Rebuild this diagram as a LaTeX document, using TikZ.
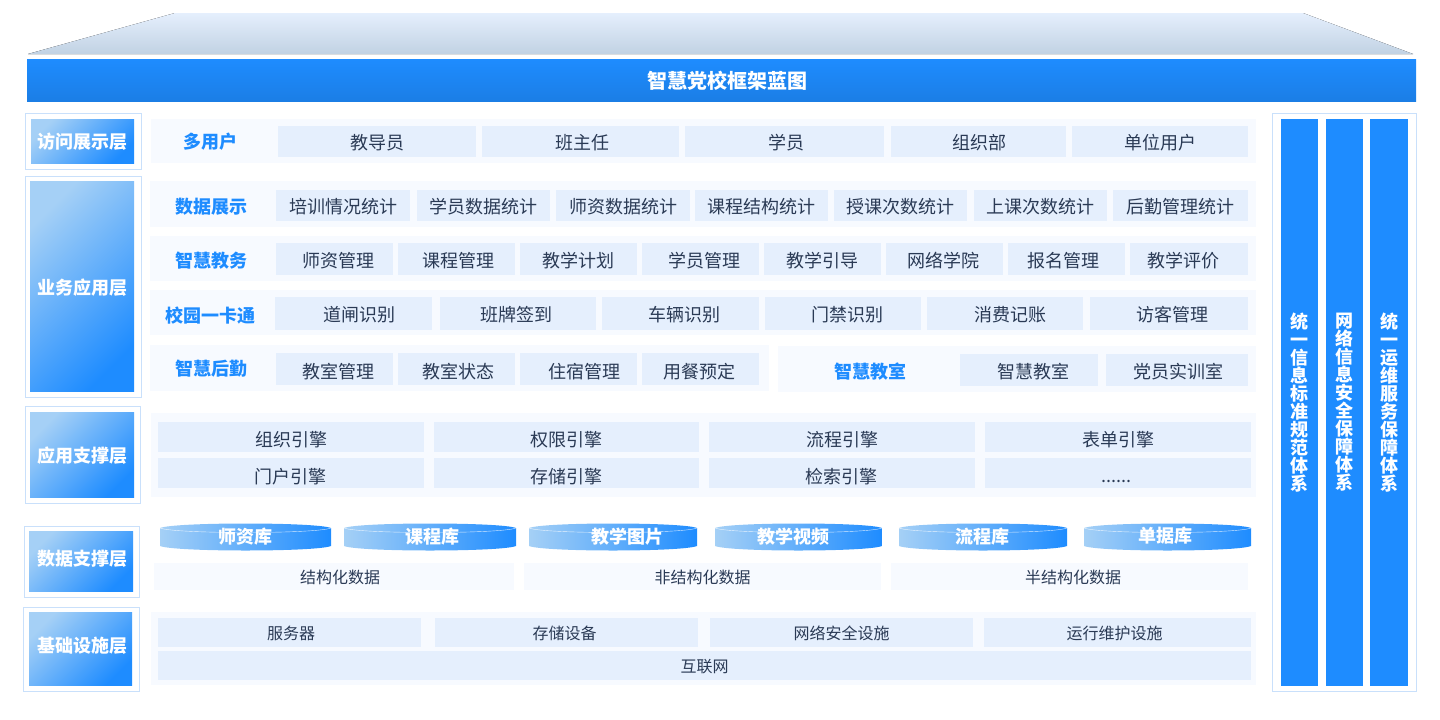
\documentclass[tikz,border=0pt]{standalone}
\usepackage{fontspec}
\setmainfont{Noto Sans CJK SC}
\usepackage{tikz}
\definecolor{framecol}{HTML}{C9E0FB}
\definecolor{panelcol}{HTML}{F7FAFF}
\definecolor{cellcol}{HTML}{E5EFFD}
\definecolor{inkcol}{HTML}{2A3A55}
\definecolor{bluecol}{HTML}{1E8CFF}
\definecolor{palecol}{HTML}{A5D0F6}
\definecolor{roofcol}{HTML}{C1D2E3}

\begin{document}
\begin{tikzpicture}[x=1pt,y=-1pt,
    box/.style ={rectangle, inner sep=0pt, outer sep=0pt},
    frame/.style ={box, draw=framecol, line width=1pt, fill=white},
    layer/.style ={box, top color=palecol, bottom color=bluecol, shading angle=45, text=white, text height=16pt, text depth=2pt, font=\fontsize{18}{18}\selectfont\bfseries},
    panel/.style ={box, fill=panelcol},
    cell/.style ={box, fill=cellcol, text=inkcol, text height=18pt, text depth=2pt, font=\fontsize{18}{18}\selectfont},
    smallcell/.style ={cell, text height=16.4pt, font=\fontsize{16}{16}\selectfont},
    datacell/.style ={panel, text=inkcol, text height=16.4pt, text depth=2pt, font=\fontsize{16}{16}\selectfont},
    section/.style ={text=bluecol, inner sep=0pt, text height=16pt, text depth=2pt, font=\fontsize{18}{18}\selectfont\bfseries},
    database/.style ={box, minimum height=28pt},
    dbtitle/.style ={text=white, inner sep=0pt, text height=16pt, text depth=2pt, font=\fontsize{18}{18}\selectfont\bfseries},
    pillar/.style ={box, fill=bluecol, text=white, align=center, font=\fontsize{18}{18}\selectfont\bfseries}]
   \useasboundingbox (0,0) rectangle (1440,720);
   % roof and title
   \fill[top color=cellcol, bottom color=roofcol] (28,54) -- (175,13) -- (1303,13) -- (1413,54) -- cycle;
   \node[box, minimum width=1389pt, minimum height=42pt, top color=bluecol, bottom color=bluecol!90!black, text=white, text height=18pt, text depth=2pt, font=\fontsize{20}{20}\selectfont\bfseries] (title) at (721.5,80) {\hspace*{12pt}智慧党校框架蓝图};
   % layers on the left
   \node[frame, minimum width=116pt, minimum height=56pt] (F1) at (83,141) {};
   \node[frame, minimum width=116pt, minimum height=221pt] (F2) at (83,286.5) {};
   \node[frame, minimum width=115pt, minimum height=97pt] (F3) at (82.5,454.5) {};
   \node[frame, minimum width=115pt, minimum height=71pt] (F4) at (81.5,561.5) {};
   \node[frame, minimum width=116pt, minimum height=84pt] (F5) at (81,649) {};
   \node[layer, minimum width=103pt, minimum height=44pt] (L1) at (82.5,141) {访问展示层};
   \node[layer, minimum width=104pt, minimum height=210pt, text height=18pt] (L2) at (82,286) {业务应用层};
   \node[layer, minimum width=104pt, minimum height=85pt, text height=18pt] (L3) at (82,454.5) {应用支撑层};
   \node[layer, minimum width=104pt, minimum height=60pt, text depth=7pt] (L4) at (81,561) {\hspace*{2pt}数据支撑层};
   \node[layer, minimum width=103pt, minimum height=73pt, text depth=8pt] (L5) at (80.5,648.5) {\hspace*{3pt}基础设施层};
   % pale panels behind the rows
   \node[panel, minimum width=1105pt, minimum height=44pt] (P1) at (703.5,141) {};
   \node[panel, minimum width=1106pt, minimum height=46pt] (P2) at (703,204) {};
   \node[panel, minimum width=1106pt, minimum height=45pt] (P3) at (703,258.5) {};
   \node[panel, minimum width=1106pt, minimum height=45pt] (P4) at (703,312.5) {};
   \node[panel, minimum width=619pt, minimum height=46pt] (P5) at (459.5,368) {};
   \node[panel, minimum width=478pt, minimum height=46pt] (P6) at (1017,369) {};
   \node[panel, minimum width=1105pt, minimum height=84pt] (P7) at (703.5,455) {};
   \node[panel, minimum width=1105pt, minimum height=73pt] (P8) at (703.5,648.5) {};
   % access row
   \node[section] (S1) at (210,141) {多用户};
   \node[cell, minimum width=198pt, minimum height=31pt] (A1) at (377,141.5) {教导员};
   \node[cell, minimum width=197pt, minimum height=31pt] (A2) at (580.5,141.5) {\hspace*{3pt}班主任};
   \node[cell, minimum width=199pt, minimum height=31pt] (A3) at (784.5,141.5) {\hspace*{3pt}学员};
   \node[cell, minimum width=175pt, minimum height=31pt] (A4) at (978.5,141.5) {\hspace*{1pt}组织部};
   \node[cell, minimum width=176pt, minimum height=31pt] (A5) at (1160,141.5) {单位用户};
   % data display row
   \node[section] (S2) at (211,206) {数据展示};
   \node[cell, minimum width=134pt, minimum height=31pt] (B1) at (343,205.5) {培训情况统计};
   \node[cell, minimum width=133pt, minimum height=31pt] (B2) at (483.5,205.5) {学员数据统计};
   \node[cell, minimum width=134pt, minimum height=31pt] (B3) at (623,205.5) {师资数据统计};
   \node[cell, minimum width=133pt, minimum height=31pt] (B4) at (761.5,205.5) {课程结构统计};
   \node[cell, minimum width=133pt, minimum height=31pt] (B5) at (900.5,205.5) {授课次数统计};
   \node[cell, minimum width=133pt, minimum height=31pt] (B6) at (1040.5,205.5) {上课次数统计};
   \node[cell, minimum width=135pt, minimum height=31pt] (B7) at (1180.5,205.5) {后勤管理统计};
   % teaching row
   \node[section] (S3) at (211,260) {智慧教务};
   \node[cell, minimum width=117pt, minimum height=32pt] (C1) at (334.5,259) {\hspace*{8pt}师资管理};
   \node[cell, minimum width=117pt, minimum height=32pt] (C2) at (456.5,259) {\hspace*{4pt}课程管理};
   \node[cell, minimum width=117pt, minimum height=32pt] (C3) at (578.5,259) {教学计划};
   \node[cell, minimum width=117pt, minimum height=32pt] (C4) at (700.5,259) {\hspace*{7pt}学员管理};
   \node[cell, minimum width=117pt, minimum height=32pt] (C5) at (822.5,259) {教学引导};
   \node[cell, minimum width=117pt, minimum height=32pt] (C6) at (944.5,259) {网络学院\hspace*{2pt}};
   \node[cell, minimum width=117pt, minimum height=32pt] (C7) at (1066.5,259) {报名管理\hspace*{6pt}};
   \node[cell, minimum width=118pt, minimum height=32pt] (C8) at (1189,259) {教学评价\hspace*{12pt}};
   % campus card row
   \node[section] (S4) at (210,315) {校园一卡通};
   \node[cell, minimum width=157pt, minimum height=33pt] (D1) at (353.5,313.5) {\hspace*{12pt}道闸识别};
   \node[cell, minimum width=156pt, minimum height=33pt] (D2) at (518,313.5) {班牌签到\hspace*{4pt}};
   \node[cell, minimum width=157pt, minimum height=33pt] (D3) at (680.5,313.5) {\hspace*{8pt}车辆识别};
   \node[cell, minimum width=156pt, minimum height=33pt] (D4) at (843,313.5) {\hspace*{8pt}门禁识别};
   \node[cell, minimum width=156pt, minimum height=33pt] (D5) at (1005,313.5) {\hspace*{10pt}消费记账};
   \node[cell, minimum width=158pt, minimum height=33pt] (D6) at (1169,313.5) {\hspace*{6pt}访客管理};
   % logistics and classroom
   \node[section] (S5) at (211,368) {智慧后勤};
   \node[cell, minimum width=117pt, minimum height=32pt, text height=20pt] (E1) at (334.5,369) {\hspace*{8pt}教室管理};
   \node[cell, minimum width=117pt, minimum height=32pt, text height=20pt] (E2) at (456.5,369) {\hspace*{4pt}教室状态};
   \node[cell, minimum width=117pt, minimum height=32pt, text height=20pt] (E3) at (578.5,369) {\hspace*{11pt}住宿管理};
   \node[cell, minimum width=117pt, minimum height=32pt, text height=20pt] (E4) at (700.5,369) {用餐预定\hspace*{3pt}};
   \node[section] (S6) at (870,371) {智慧教室};
   \node[cell, minimum width=138pt, minimum height=32pt] (E5) at (1029,370) {\hspace*{8pt}智慧教室};
   \node[cell, minimum width=142pt, minimum height=32pt] (E6) at (1177,370) {\hspace*{2pt}党员实训室};
   % support engines
   \node[cell, minimum width=266pt, minimum height=30pt, text height=20pt] (G1) at (291,437) {组织引擎};
   \node[cell, minimum width=265pt, minimum height=30pt, text height=20pt] (G2) at (566.5,437) {权限引擎};
   \node[cell, minimum width=266pt, minimum height=30pt, text height=20pt] (G3) at (842,437) {流程引擎};
   \node[cell, minimum width=266pt, minimum height=30pt, text height=20pt] (G4) at (1118,437) {表单引擎};
   \node[cell, minimum width=266pt, minimum height=30pt, text height=22pt] (G5) at (291,473) {门户引擎\hspace*{2pt}};
   \node[cell, minimum width=265pt, minimum height=30pt, text height=22pt] (G6) at (566.5,473) {存储引擎};
   \node[cell, minimum width=266pt, minimum height=30pt, text height=22pt] (G7) at (842,473) {检索引擎\hspace*{2pt}};
   \node[cell, minimum width=266pt, minimum height=30pt, text height=20pt] (G8) at (1118,473) {......\hspace*{4pt}};
   % databases
   \node[database, minimum width=171pt] (H1) at (245.5,537) {};
   \node[database, minimum width=172pt] (H2) at (430,537) {};
   \node[database, minimum width=168pt] (H3) at (613,537) {};
   \node[database, minimum width=167pt] (H4) at (798.5,537) {};
   \node[database, minimum width=168pt] (H5) at (983,537) {};
   \node[database, minimum width=167pt] (H6) at (1167.5,537) {};
   \foreach \db in {H1,H2,H3,H4,H5,H6} {
     \path[left color=palecol, right color=bluecol] ([yshift=-5pt]\db.north west) .. controls ([xshift=15pt,yshift=1pt]\db.north west) and ([xshift=-15pt,yshift=1pt]\db.north east) .. ([yshift=-5pt]\db.north east) -- ([yshift=5pt]\db.south east) .. controls ([xshift=-15pt,yshift=-1pt]\db.south east) and ([xshift=15pt,yshift=-1pt]\db.south west) .. ([yshift=5pt]\db.south west) -- cycle;
     \draw[white, line width=0.4pt, opacity=0.8] ([yshift=-5pt]\db.north west) .. controls ([xshift=15pt,yshift=-11pt]\db.north west) and ([xshift=-15pt,yshift=-11pt]\db.north east) .. ([yshift=-5pt]\db.north east);
   }
   \node[dbtitle] (T1) at (245,536) {师资库};
   \node[dbtitle] (T2) at (432,536) {课程库};
   \node[dbtitle] (T3) at (627,536) {教学图片};
   \node[dbtitle] (T4) at (793,536) {教学视频};
   \node[dbtitle] (T5) at (982,536) {流程库};
   \node[dbtitle] (T6) at (1165,535) {单据库};
   \node[datacell, minimum width=360pt, minimum height=27pt] (J1) at (334,576.5) {\hspace*{12pt}结构化数据};
   \node[datacell, minimum width=357pt, minimum height=27pt] (J2) at (702.5,576.5) {非结构化数据};
   \node[datacell, minimum width=357pt, minimum height=27pt] (J3) at (1069.5,576.5) {\hspace*{7pt}半结构化数据};
   % infrastructure
   \node[smallcell, minimum width=263pt, minimum height=29pt] (K1) at (289.5,632.5) {\hspace*{3pt}服务器};
   \node[smallcell, minimum width=263pt, minimum height=29pt] (K2) at (566.5,632.5) {存储设备\hspace*{4pt}};
   \node[smallcell, minimum width=263pt, minimum height=29pt] (K3) at (841.5,632.5) {网络安全设施};
   \node[smallcell, minimum width=267pt, minimum height=29pt] (K4) at (1117.5,632.5) {运行维护设施\hspace*{6pt}};
   \node[smallcell, minimum width=1093pt, minimum height=29pt] (K5) at (704.5,665.5) {互联网};
   % pillars on the right
   \node[frame, minimum width=144pt, minimum height=578pt] (F6) at (1344,402) {};
   \node[pillar, minimum width=37pt, minimum height=567pt] (R1) at (1299.5,402.5) {统\\一\\信\\息\\标\\准\\规\\范\\体\\系};
   \node[pillar, minimum width=37pt, minimum height=567pt] (R2) at (1344.5,402.5) {网\\络\\信\\息\\安\\全\\保\\障\\体\\系};
   \node[pillar, minimum width=38pt, minimum height=567pt] (R3) at (1389,402.5) {统\\一\\运\\维\\服\\务\\保\\障\\体\\系};
 \end{tikzpicture}
\end{document}
